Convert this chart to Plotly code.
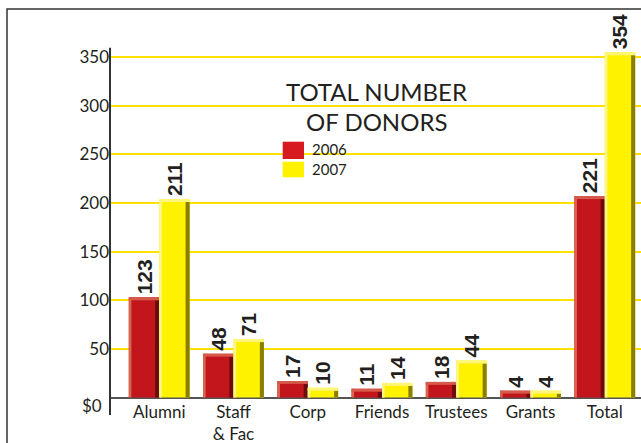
import plotly.graph_objects as go

# ---- data ----
categories = ["Alumni", "Staff & Fac", "Corp", "Friends", "Trustees", "Grants", "Total"]
tick_labels = ["Alumni", "Staff<br>& Fac", "Corp", "Friends", "Trustees", "Grants", "Total"]
# bar heights as drawn in the source graphic
donors_2006 = [103, 45, 17, 9, 16, 7, 207]
donors_2007 = [204, 60, 10, 15, 38, 7, 355]
# numbers printed above the bars
labels_2006 = ["123", "48", "17", "11", "18", "4", "221"]
labels_2007 = ["211", "71", "10", "14", "44", "4", "354"]
y_ticks = [0, 50, 100, 150, 200, 250, 300, 350]
y_tick_text = ["", "50", "100", "150", "200", "250", "300", "350"]

# ---- styling ----
RED, RED_LIGHT, RED_DARK, RED_TOP = "#C2161C", "#D8674F", "#6A0B0E", "#D65A4A"
YEL, YEL_LIGHT, YEL_DARK, YEL_TOP = "#FFF200", "#FFF68A", "#8A7D00", "#FFF57A"
TXT = "#231F20"
W = 0.41
BEVEL = 3

W_PX, H_PX = 641, 443
L, R, T, B = 110, 0, 48, 43
PW, PH = W_PX - L - R, H_PX - T - B


def px(x):
    return (x - L) / PW


def py(y):
    return (H_PX - B - y) / PH


label_font = dict(family="Liberation Sans Narrow, Arial Narrow, Liberation Sans, sans-serif",
                  size=21, color=TXT, weight="bold")

fig = go.Figure()


def add_series(vals, labels, off, main, light, dark, top, name):
    fig.add_trace(go.Bar(x=categories, y=vals, name=name, width=W, offset=off,
                         marker=dict(color=main, line=dict(width=0)),
                         text=labels, textposition="outside", textangle=-90,
                         textfont=label_font, cliponaxis=False, constraintext="none"))
    fig.add_trace(go.Bar(x=categories, y=vals, width=0.035, offset=off,
                         marker=dict(color=light, line=dict(width=0)),
                         hoverinfo="skip", showlegend=False))
    fig.add_trace(go.Bar(x=categories, y=[v - BEVEL for v in vals], width=0.055,
                         offset=off + W - 0.055,
                         marker=dict(color=dark, line=dict(width=0)),
                         hoverinfo="skip", showlegend=False))
    fig.add_trace(go.Bar(x=categories, y=[BEVEL] * len(vals), base=[v - BEVEL for v in vals],
                         width=W, offset=off,
                         marker=dict(color=top, line=dict(width=0)),
                         hoverinfo="skip", showlegend=False))


add_series(donors_2006, labels_2006, -W, RED, RED_LIGHT, RED_DARK, RED_TOP, "2006")
add_series(donors_2007, labels_2007, 0.0, YEL, YEL_LIGHT, YEL_DARK, YEL_TOP, "2007")

shapes = [
    # outer frame
    dict(type="rect", xref="paper", yref="paper", x0=px(7), x1=px(660), y0=py(460), y1=py(9),
         line=dict(color="#333333", width=1.5), fillcolor="rgba(0,0,0,0)", layer="above"),
    # white knockout behind title/legend
    dict(type="rect", xref="paper", yref="paper", x0=px(280), x1=px(474), y0=py(186), y1=py(68),
         line=dict(width=0), fillcolor="white", layer="between"),
    # y axis line
    dict(type="line", xref="paper", yref="paper", x0=0, x1=0, y0=py(415), y1=py(47.7),
         line=dict(color="#333333", width=2), layer="above"),
    # legend swatches
    dict(type="rect", xref="paper", yref="paper", x0=px(282.7), x1=px(304), y0=py(159), y1=py(141.7),
         line=dict(width=0), fillcolor="#D71920", layer="above"),
    dict(type="rect", xref="paper", yref="paper", x0=px(282.7), x1=px(304), y0=py(177.3), y1=py(161.7),
         line=dict(width=0), fillcolor=YEL, layer="above"),
]

annotations = [
    dict(text="TOTAL NUMBER", x=px(376.7), y=py(91), xref="paper", yref="paper",
         showarrow=False, xanchor="center", yanchor="middle",
         font=dict(family="Lato, sans-serif", size=24, color=TXT)),
    dict(text="OF DONORS", x=px(376.7), y=py(121.4), xref="paper", yref="paper",
         showarrow=False, xanchor="center", yanchor="middle",
         font=dict(family="Lato, sans-serif", size=24, color=TXT)),
    dict(text="2006", x=px(310), y=py(149), xref="paper", yref="paper",
         showarrow=False, xanchor="left", yanchor="middle",
         font=dict(family="Lato, sans-serif", size=15, color=TXT)),
    dict(text="2007", x=px(310), y=py(168.5), xref="paper", yref="paper",
         showarrow=False, xanchor="left", yanchor="middle",
         font=dict(family="Lato, sans-serif", size=15, color=TXT)),
    dict(text="$0", x=px(103.5), y=py(405), xref="paper", yref="paper",
         showarrow=False, xanchor="right", yanchor="middle",
         font=dict(family="Lato, sans-serif", size=17, color=TXT)),
]

fig.update_layout(
    width=W_PX, height=H_PX,
    margin=dict(l=L, r=R, t=T, b=B, pad=0),
    paper_bgcolor="white", plot_bgcolor="white",
    barmode="overlay", showlegend=False,
    font=dict(family="Lato, sans-serif", color=TXT),
    shapes=shapes, annotations=annotations,
    xaxis=dict(type="category", categoryorder="array", categoryarray=categories,
               tickvals=categories, ticktext=tick_labels,
               range=[-0.663, 6.488], showgrid=False, zeroline=False, showline=False,
               ticks="", tickfont=dict(size=17, color=TXT)),
    yaxis=dict(range=[-2.57, 359.4], tickvals=y_ticks, ticktext=y_tick_text,
               showgrid=True, gridcolor="#FFE100", gridwidth=1.6,
               zeroline=True, zerolinecolor="#555555", zerolinewidth=1.6,
               showline=False, ticks="", tickfont=dict(size=17, color=TXT)),
)

fig.write_html(
    "out.html",
    config={"displayModeBar": False},
    post_script="document.body.style.margin='0';document.body.style.overflow='hidden';",
)
